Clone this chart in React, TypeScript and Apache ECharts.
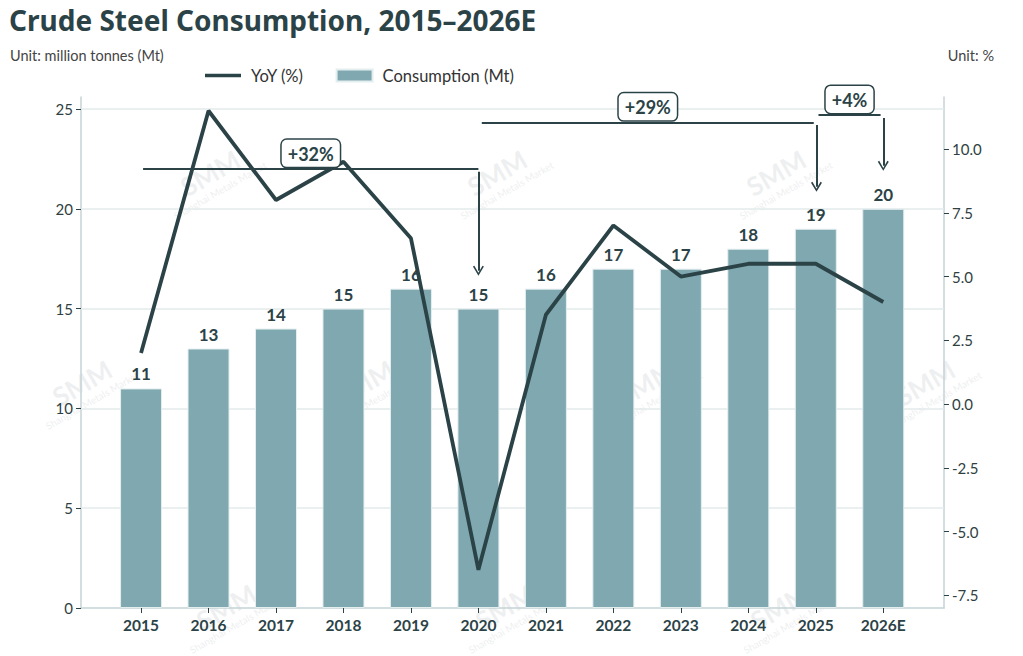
import React, { useEffect, useRef } from 'react';
import * as echarts from 'echarts';
import type { EChartsOption } from 'echarts';

// chart data
const years = ['2015', '2016', '2017', '2018', '2019', '2020', '2021', '2022', '2023', '2024', '2025', '2026E'];
const consumption = [11, 13, 14, 15, 16, 15, 16, 17, 17, 18, 19, 20];
const yoy = [2.0, 11.5, 8.0, 9.5, 6.5, -6.5, 3.5, 7.0, 5.0, 5.5, 5.5, 4.0];
const leftTicks = [0, 5, 10, 15, 20, 25];
const rightTicks = [-7.5, -5, -2.5, 0, 2.5, 5, 7.5, 10];
const gridValues = [5, 10, 15, 20, 25];

// annotation brackets (x in category index, y in Mt)
const brackets = [
  { label: '+32%', from: 0.03, to: 5.0, y: 22.0 },
  { label: '+29%', from: 5.05, to: 9.97, y: 24.33 },
  { label: '+4%', from: 10.04, to: 10.96, y: 24.7 },
];
const arrows = [
  { x: 5.0, from: 21.85, to: 16.9 },
  { x: 10.01, from: 24.2, to: 21.1 },
  { x: 11.0, from: 24.55, to: 22.15 },
];

const DARK = '#2b4347';
const BAR = '#7fa8b0';
const FONT = 'Lato, sans-serif';

const watermarkSpots = [
  [210, 173], [497, 173], [776, 173],
  [82, 383], [364, 383], [646, 383], [925, 383],
  [226, 607], [505, 607], [780, 607],
];

const App: React.FC = () => {
  const chartRef = useRef<HTMLDivElement>(null);

  useEffect(() => {
    let chart: echarts.ECharts | undefined;
    if (chartRef.current) {
      chart = echarts.init(chartRef.current, undefined, { renderer: 'svg' });

      const chevron = 'path://M5,0 L10,8.6 L8.7,9.4 L5,2.8 L1.3,9.4 L0,8.6 Z';
      const lineIcon = 'path://M0,0 M0,4.2 L36,4.2 L36,7.8 L0,7.8 Z M36,12';

      const option: EChartsOption = {
        animation: false,
        textStyle: { fontFamily: FONT },
        title: [
          {
            text: 'Crude Steel Consumption, 2015–2026E',
            left: 9,
            top: 6,
            padding: 0,
            textStyle: { fontSize: 28, fontWeight: 'bold', color: DARK, fontFamily: 'Noto Sans, sans-serif' },
          },
          {
            text: 'Unit: million tonnes (Mt)',
            left: 10,
            top: 48,
            padding: 0,
            textStyle: { fontSize: 14.5, fontWeight: 'normal', color: '#444', fontFamily: FONT },
          },
          {
            text: 'Unit: %',
            right: 29,
            top: 48,
            padding: 0,
            textStyle: { fontSize: 14.5, fontWeight: 'normal', color: '#444', fontFamily: FONT },
          },
        ],
        legend: {
          left: 205,
          top: 67,
          padding: 0,
          itemWidth: 36,
          itemHeight: 12,
          itemGap: 32,
          data: [
            { name: 'YoY (%)', icon: lineIcon },
            { name: 'Consumption (Mt)', icon: 'rect' },
          ],
          textStyle: { fontSize: 16.5, color: '#333', fontFamily: FONT, padding: [0, 0, 0, 5] },
        },
        grid: { left: 81, right: 79, top: 97, bottom: 48 },
        xAxis: {
          type: 'value',
          min: -0.89,
          max: 11.9,
          axisLine: { onZero: false, lineStyle: { color: '#c5d3d6', width: 1.5 } },
          axisTick: { customValues: years.map((_, i) => i), length: 5, lineStyle: { color: DARK } },
          axisLabel: {
            customValues: years.map((_, i) => i),
            formatter: (v: number) => years[Math.round(v)] ?? '',
            fontSize: 15.5,
            fontWeight: 'bold',
            color: DARK,
            margin: 9,
          },
          splitLine: { show: false },
        },
        yAxis: [
          {
            type: 'value',
            min: 0,
            max: 25.6,
            axisLine: { show: true, onZero: false, lineStyle: { color: '#c5d3d6', width: 1.5 } },
            axisTick: { show: true, customValues: leftTicks, length: 5, lineStyle: { color: DARK } },
            axisLabel: { customValues: leftTicks, fontSize: 15, color: '#2f3f42', margin: 8 },
            splitLine: { show: false },
          },
          {
            type: 'value',
            min: -8.0,
            max: 12.04,
            position: 'right',
            axisLine: { show: true, onZero: false, lineStyle: { color: '#c5d3d6', width: 1.5 } },
            axisTick: { show: true, customValues: rightTicks, length: 5, lineStyle: { color: DARK } },
            axisLabel: {
              customValues: rightTicks,
              formatter: (v: number) => v.toFixed(1),
              fontSize: 15,
              color: '#2f3f42',
              margin: 8,
            },
            splitLine: { show: false },
          },
        ],
        series: [
          {
            name: 'Consumption (Mt)',
            type: 'bar',
            yAxisIndex: 0,
            barWidth: 42,
            data: consumption.map((v, i) => [i, v]),
            itemStyle: { color: BAR, borderColor: '#e4eeef', borderWidth: 1 },
            label: {
              show: true,
              position: 'top',
              distance: 6,
              formatter: (p: any) => String(p.value[1]),
              fontSize: 17,
              fontWeight: 'bold',
              color: DARK,
              fontFamily: FONT,
            },
            markLine: {
              silent: true,
              z: 1,
              symbol: 'none',
              label: { show: false },
              lineStyle: { color: '#e3eaeb', width: 1.5, type: 'solid' },
              data: gridValues.map((v) => ({ yAxis: v })),
            },
          },
          {
            name: 'YoY (%)',
            type: 'line',
            yAxisIndex: 1,
            z: 4,
            symbol: 'none',
            showSymbol: false,
            data: yoy.map((v, i) => [i, v]),
            lineStyle: { color: DARK, width: 3.8 },
            itemStyle: { color: DARK },
          },
          {
            name: 'annotations',
            type: 'line',
            yAxisIndex: 0,
            data: [],
            markLine: {
              silent: true,
              z: 6,
              lineStyle: { color: DARK, width: 2, type: 'solid' },
              data: [
                ...brackets.map((b) => [
                  {
                    coord: [b.from, b.y],
                    symbol: 'none',
                    label: {
                      show: true,
                      position: 'insideMiddleTop',
                      distance: 2,
                      formatter: b.label,
                      fontSize: 18,
                      fontWeight: 'bold',
                      color: DARK,
                      fontFamily: FONT,
                      backgroundColor: '#fff',
                      borderColor: DARK,
                      borderWidth: 1.5,
                      borderRadius: 5,
                      padding: [5, 6, 4, 6],
                    },
                  },
                  { coord: [b.to, b.y], symbol: 'none' },
                ]),
                ...arrows.map((a) => [
                  { coord: [a.x, a.from], symbol: 'none', label: { show: false } },
                  { coord: [a.x, a.to], symbol: chevron, symbolSize: [11, 10] },
                ]),
              ] as any,
            },
          },
        ],
        graphic: watermarkSpots.map(([x, y]) => ({
          type: 'group',
          x,
          y,
          rotation: Math.PI / 6,
          silent: true,
          z: 10,
          children: [
            {
              type: 'text',
              x: 0,
              y: 0,
              style: {
                text: 'SMM',
                fontSize: 26,
                fontWeight: 'bold',
                fontFamily: FONT,
                fill: 'rgba(205,210,212,0.35)',
                align: 'center',
                verticalAlign: 'middle',
              },
            },
            {
              type: 'text',
              x: 0,
              y: 20,
              style: {
                text: 'Shanghai Metals Market',
                fontSize: 10,
                fontFamily: FONT,
                fill: 'rgba(205,210,212,0.35)',
                align: 'center',
                verticalAlign: 'middle',
              },
            },
          ],
        })) as any,
      };

      chart.setOption(option);
    }
    return () => {
      chart?.dispose();
    };
  }, []);

  return <div ref={chartRef} style={{ width: '1023px', height: '656px', position: 'absolute', left: 0, top: 0 }} />;
};

export default App;
